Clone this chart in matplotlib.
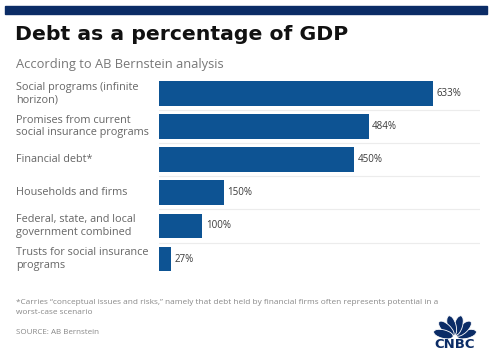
import numpy as np
import matplotlib
matplotlib.use('Agg')
import matplotlib.pyplot as plt
from matplotlib.patches import Ellipse, Rectangle

# chart data
categories = ['Social programs (infinite\nhorizon)',
              'Promises from current\nsocial insurance programs',
              'Financial debt*',
              'Households and firms',
              'Federal, state, and local\ngovernment combined',
              'Trusts for social insurance\nprograms']
values = [633, 484, 450, 150, 100, 27]
value_labels = ['633%', '484%', '450%', '150%', '100%', '27%']

BAR = '#0d5393'
NAVY = '#0b2c66'
FONT = 'Open Sans'

def main():
    fig = plt.figure(figsize=(5, 3.55), dpi=100)
    W, H = 500, 355

    # top navy band
    fig.patches.append(Rectangle((5 / W, 1 - 14 / H), 482 / W, 8 / H,
                                 transform=fig.transFigure, color=NAVY))

    # title and subtitle
    fig.text(15 / W, 1 - 40 / H, 'Debt as a percentage of GDP', fontsize=14.7,
             fontweight='bold', family='DejaVu Sans', color='#111111', va='baseline')
    fig.text(16 / W, 1 - 68 / H, 'According to AB Bernstein analysis', fontsize=9.3,
             family=FONT, color='#777777', va='baseline')

    # bar axes
    left, right = 159 / W, 480 / W
    ax = fig.add_axes([left, 1 - 275.6 / H, right - left, (275.6 - 77) / H])
    y = np.arange(len(values))
    ax.barh(y, values, height=0.75, color=BAR, zorder=2)
    ax.set_xlim(0, 741)
    ax.set_ylim(len(values) - 0.5, -0.5)
    ax.axis('off')

    # faint row separators
    for b in y[:-1] + 0.5:
        ax.axhline(b, color='#ececec', lw=0.8, zorder=1)

    # category labels and values
    xlab = (16 - 159) / (480 - 159)
    for i, (cat, v, lab) in enumerate(zip(categories, values, value_labels)):
        ax.text(xlab, i, cat, transform=ax.get_yaxis_transform(), ha='left',
                va='center', fontsize=7.8, family=FONT, color='#666666',
                linespacing=1.2)
        ax.text(v + 8, i, lab, ha='left', va='center', fontsize=7,
                family=FONT, color='#3a3a3a')

    # footnote and source
    fig.text(16 / W, 1 - 302 / H,
             '*Carries \u201cconceptual issues and risks,\u201d namely that debt held by financial firms often represents potential in a',
             fontsize=5.95, family=FONT, color='#888888', va='center')
    fig.text(16 / W, 1 - 313 / H, 'worst-case scenario',
             fontsize=5.95, family=FONT, color='#888888', va='center')
    fig.text(16 / W, 1 - 332 / H, 'SOURCE: AB Bernstein',
             fontsize=5.8, family=FONT, color='#888888', va='center')

    # CNBC peacock logo
    lg = fig.add_axes([432 / W, 1 - 348 / H, 46 / W, 36 / H])
    lg.set_xlim(0, 46)
    lg.set_ylim(0, 36)
    lg.axis('off')
    bx, by = 23, 11
    for ang in [14, 44, 74, 106, 136, 166]:
        a = np.deg2rad(ang)
        cx, cy = bx + 12 * np.cos(a), by + 12 * np.sin(a)
        lg.add_patch(Ellipse((cx, cy), 20, 8.5, angle=ang, facecolor=NAVY,
                             edgecolor='white', lw=0.6))
    lg.text(23, 4, 'CNBC', ha='center', va='center', fontsize=9.5,
            fontweight='heavy', family='DejaVu Sans', color=NAVY)

    fig.savefig('out.png', dpi=100)

if __name__ == '__main__':
    main()
